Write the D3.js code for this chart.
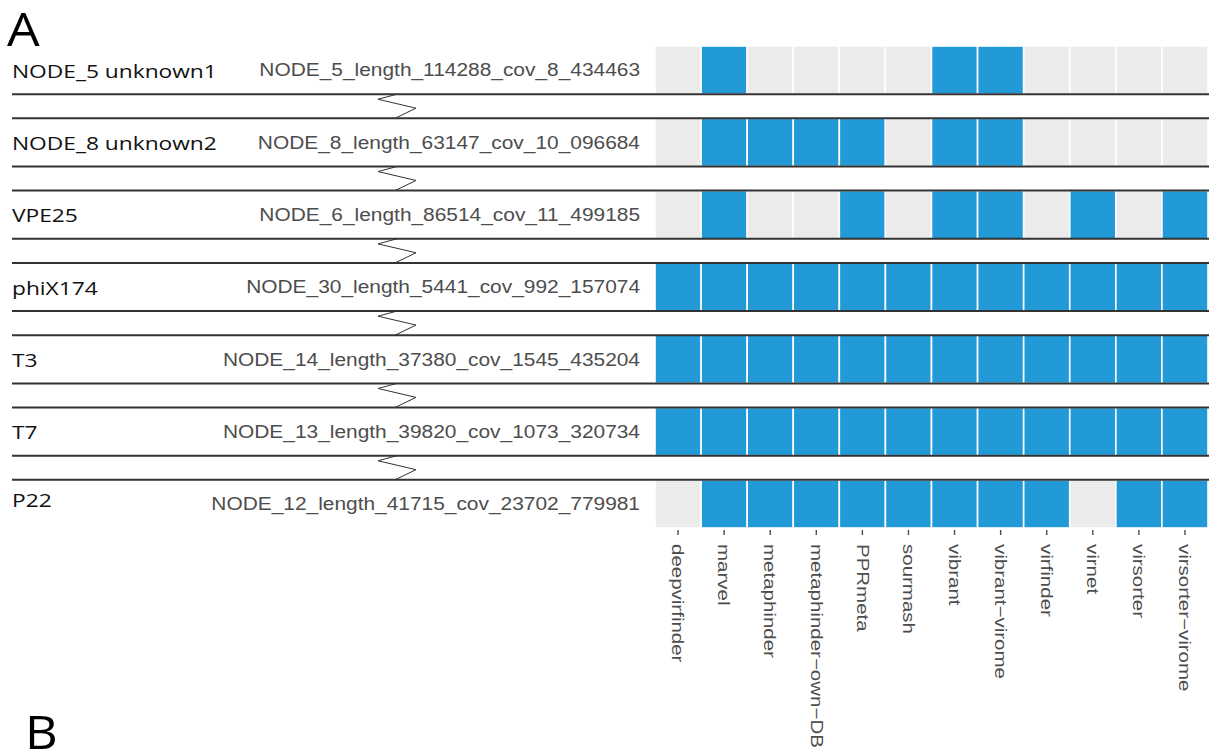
<!DOCTYPE html>
<html>
<head>
<meta charset="utf-8">
<script src="https://cdn.jsdelivr.net/npm/d3@7"></script>
<style>
  html, body { margin: 0; padding: 0; background: #ffffff; }
  svg { display: block; }
</style>
</head>
<body>
<script>
// ---------------- data ----------------
const methods = ["deepvirfinder", "marvel", "metaphinder", "metaphinder\u2212own\u2212DB", "PPRmeta",
  "sourmash", "vibrant", "vibrant\u2212virome", "virfinder", "virnet", "virsorter", "virsorter\u2212virome"];
const contigs = ["NODE_5_length_114288_cov_8_434463", "NODE_8_length_63147_cov_10_096684",
  "NODE_6_length_86514_cov_11_499185", "NODE_30_length_5441_cov_992_157074",
  "NODE_14_length_37380_cov_1545_435204", "NODE_13_length_39820_cov_1073_320734",
  "NODE_12_length_41715_cov_23702_779981"];
const genomes = ["NODE_5 unknown1", "NODE_8 unknown2", "VPE25", "phiX174", "T3", "T7", "P22"];
// 1 = detected (blue), 0 = not detected (grey); one array per contig, in methods order
const detNode5  = [0,1,0,0,0,0,1,1,0,0,0,0];
const detNode8  = [0,1,1,1,1,0,1,1,0,0,0,0];
const detVPE25  = [0,1,0,0,1,0,1,1,0,1,0,1];
const detPhiX   = [1,1,1,1,1,1,1,1,1,1,1,1];
const detT3     = [1,1,1,1,1,1,1,1,1,1,1,1];
const detT7     = [1,1,1,1,1,1,1,1,1,1,1,1];
const detP22    = [0,1,1,1,1,1,1,1,1,0,1,1];
const detections = [detNode5, detNode8, detVPE25, detPhiX, detT3, detT7, detP22];
const panelLabels = ["A", "B"];

// ---------------- layout ----------------
const W = 1211, H = 753;
const BLUE = "#219ad7", GREY = "#ebebeb";
const svg = d3.select("body").append("svg").attr("width", W).attr("height", H);

const x = d3.scaleBand().domain(methods).range([655, 1208]).paddingInner(0).paddingOuter(0);
const y = d3.scaleBand().domain(contigs).range([46, 528]).paddingInner(1/3).paddingOuter(0);
const bw = y.bandwidth();

// cells
const cells = [];
contigs.forEach((c, i) => methods.forEach((m, j) => cells.push({c, m, v: detections[i][j]})));
svg.append("g").selectAll("rect").data(cells).join("rect")
  .attr("x", d => x(d.m)).attr("y", d => y(d.c))
  .attr("width", x.bandwidth()).attr("height", bw)
  .attr("fill", d => d.v ? BLUE : GREY)
  .attr("stroke", "#ffffff").attr("stroke-width", 1.6);

// separator lines and zig-zags between panels
const gLines = svg.append("g");
for (let i = 0; i < contigs.length - 1; i++) {
  const y0 = y(contigs[i]) + bw, y1 = y(contigs[i + 1]);
  [y0, y1].forEach(yy => gLines.append("line")
    .attr("x1", 12).attr("x2", 1209).attr("y1", yy).attr("y2", yy)
    .attr("stroke", "#333333").attr("stroke-width", 2));
  const g = y1 - y0;
  gLines.append("path")
    .attr("d", d3.line()([[397, y0], [378, y0 + g * 0.21], [416, y0 + g * 0.58], [395, y1]]))
    .attr("fill", "none").attr("stroke", "#333333").attr("stroke-width", 1);
}

// helper: width calibration for stretched text
function measure(str, font, size) {
  const t = svg.append("text").style("font-family", font).style("font-size", size + "px").text(str);
  const w = t.node().getComputedTextLength();
  t.remove();
  return w;
}

// contig labels (left axis of the heat map)
const contigFont = "'Liberation Sans', Arial, sans-serif", contigSize = 17.5;
const sxContig = 429 / measure(contigs[6], contigFont, contigSize);
const gy = svg.append("g").attr("transform", "translate(640,0)")
  .call(d3.axisLeft(y).tickSize(0).tickPadding(0));
gy.select(".domain").remove();
gy.selectAll("text")
  .attr("x", 0).attr("dy", "0.36em")
  .attr("transform", `scale(${sxContig},1)`)
  .style("font-family", contigFont).style("font-size", contigSize + "px")
  .attr("fill", "#4d4d4d");

// method labels (bottom axis)
const methFont = "'Liberation Sans', Arial, sans-serif", methSize = 16.5;
const sxMeth = 204 / measure(methods[3], methFont, methSize);
const gx = svg.append("g").attr("transform", "translate(0,530)")
  .call(d3.axisBottom(x).tickSizeInner(5).tickSizeOuter(0).tickPadding(0));
gx.select(".domain").remove();
gx.selectAll(".tick line").attr("stroke", "#4d4d4d").attr("stroke-width", 1.4);
gx.selectAll("text")
  .attr("x", 0).attr("y", 0).attr("dy", "0.35em")
  .attr("transform", `translate(0,14) rotate(90) scale(${sxMeth},1)`)
  .style("text-anchor", "start")
  .style("font-family", methFont).style("font-size", methSize + "px")
  .attr("fill", "#4d4d4d");

// genome labels on the far left
const genFont = "'Open Sans', 'Liberation Sans', sans-serif", genSize = 18.5;
const sxGen = 205 / measure(genomes[0], genFont, genSize);
svg.append("g").selectAll("text").data(genomes).join("text")
  .attr("transform", (d, i) => `translate(12,${y(contigs[i]) + bw / 2 + (i === 6 ? -4 : 1)}) scale(${sxGen},1)`)
  .attr("dy", "0.36em")
  .style("font-family", genFont).style("font-size", genSize + "px")
  .attr("fill", "#111111")
  .text(d => d);

// panel letters
svg.append("text").attr("transform", "translate(7,46) scale(1.15,1)").text(panelLabels[0])
  .style("font-family", genFont).style("font-size", "45px").attr("fill", "#000");
svg.append("text").attr("transform", "translate(25,749) scale(1.1,1)").text(panelLabels[1])
  .style("font-family", genFont).style("font-size", "46px").attr("fill", "#000");
</script>
</body>
</html>
